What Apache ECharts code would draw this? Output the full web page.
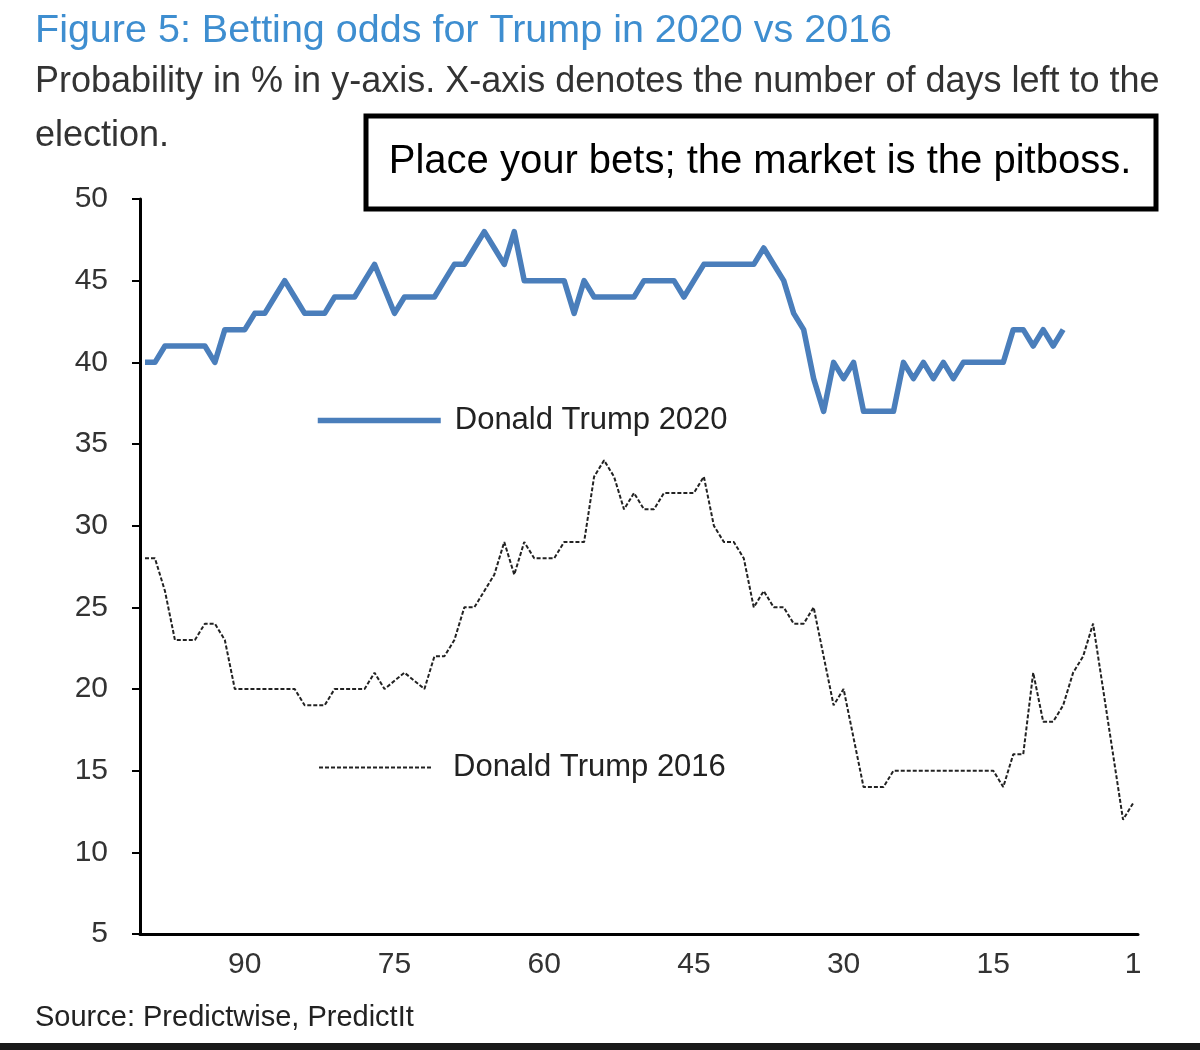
<!DOCTYPE html>
<html>
<head>
<meta charset="utf-8">
<title>Betting odds for Trump in 2020 vs 2016</title>
<script src="https://cdn.jsdelivr.net/npm/echarts@6/dist/echarts.min.js"></script>
<style>
  html, body { margin: 0; padding: 0; background: #fff; }
  #chart { width: 1200px; height: 1050px; }
</style>
</head>
<body>
<div id="chart"></div>
<script>
// days left to the election, 100 down to 1
const days = Array.from({ length: 100 }, (_, i) => 100 - i);
// labels shown under the x axis
const dayLabels = [90, 75, 60, 45, 30, 15, 1];

// 2020 odds, days 100..8
const trump2020 = [
    40, 40, 41, 41, 41, 41, 41, 40, 42, 42,
    42, 43, 43, 44, 45, 44, 43, 43, 43, 44,
    44, 44, 45, 46, 44.5, 43, 44, 44, 44, 44,
    45, 46, 46, 47, 48, 47, 46, 48, 45, 45,
    45, 45, 45, 43, 45, 44, 44, 44, 44, 44,
    45, 45, 45, 45, 44, 45, 46, 46, 46, 46,
    46, 46, 47, 46, 45, 43, 42, 39, 37, 40,
    39, 40, 37, 37, 37, 37, 40, 39, 40, 39,
    40, 39, 40, 40, 40, 40, 40, 42, 42, 41,
    42, 41, 42
];

// 2016 odds, days 100..1
const trump2016 = [
    28, 28, 26, 23, 23, 23, 24, 24, 23, 20,
    20, 20, 20, 20, 20, 20, 19, 19, 19, 20,
    20, 20, 20, 21, 20, 20.5, 21, 20.5, 20, 22,
    22, 23, 25, 25, 26, 27, 29, 27, 29, 28,
    28, 28, 29, 29, 29, 33, 34, 33, 31, 32,
    31, 31, 32, 32, 32, 32, 33, 30, 29, 29,
    28, 25, 26, 25, 25, 24, 24, 25, 22, 19,
    20, 17, 14, 14, 14, 15, 15, 15, 15, 15,
    15, 15, 15, 15, 15, 15, 14, 16, 16, 21,
    18, 18, 19, 21, 22, 24, 20, 16, 12, 13
];

const seriesNames = ['Donald Trump 2020', 'Donald Trump 2016'];

const font = "'Liberation Sans', Arial, sans-serif";
const blue = '#4A7EBB';
const dark = '#222';

const chart = echarts.init(document.getElementById('chart'));

// hide the legend dot, keep only the line sample
const noDot = { color: 'rgba(0,0,0,0)', borderWidth: 0, opacity: 0 };

chart.setOption({
    backgroundColor: '#fff',
    animation: false,
    grid: { left: 140, right: 62, top: 199, bottom: 116 },
    xAxis: {
        type: 'category',
        data: days,
        boundaryGap: true,
        axisLine: { onZero: false, lineStyle: { color: '#000', width: 3 } },
        axisTick: { show: false },
        axisLabel: {
            interval: (i, v) => dayLabels.includes(Number(v)),
            margin: 16,
            fontFamily: font,
            fontSize: 30,
            color: '#333'
        },
        splitLine: { show: false }
    },
    yAxis: {
        type: 'value',
        min: 5,
        max: 50,
        interval: 5,
        axisLine: { show: true, lineStyle: { color: '#000', width: 3 } },
        axisTick: { show: true, length: 8, lineStyle: { color: '#000', width: 2 } },
        axisLabel: { margin: 32, fontFamily: font, fontSize: 30, color: '#333' },
        splitLine: { show: false }
    },
    legend: [
        {
            data: [seriesNames[0]],
            left: 315,
            top: 405,
            padding: 0,
            itemWidth: 123,
            itemHeight: 14,
            itemStyle: noDot,
            lineStyle: { width: 5.5 },
            textStyle: { fontFamily: font, fontSize: 31, color: '#222', padding: [0, 0, 0, 9] }
        },
        {
            data: [seriesNames[1]],
            left: 318,
            top: 752,
            padding: 0,
            itemWidth: 112,
            itemHeight: 14,
            itemStyle: noDot,
            lineStyle: { width: 2 },
            textStyle: { fontFamily: font, fontSize: 31, color: '#222', padding: [0, 0, 0, 17] }
        }
    ],
    series: [
        {
            name: seriesNames[0],
            type: 'line',
            data: trump2020,
            symbol: 'none',
            lineStyle: { color: blue, width: 5.5, join: 'round' },
            itemStyle: { color: blue }
        },
        {
            name: seriesNames[1],
            type: 'line',
            data: trump2016,
            symbol: 'none',
            lineStyle: { color: dark, width: 2, type: [4, 2] },
            itemStyle: { color: dark }
        }
    ],
    graphic: [
        {
            type: 'text', left: 35, top: 11,
            style: { text: 'Figure 5: Betting odds for Trump in 2020 vs 2016', fontFamily: font, fontSize: 39.5, fill: '#3E8ED0' }
        },
        {
            type: 'text', left: 35, top: 64,
            style: { text: 'Probability in % in y-axis. X-axis denotes the number of days left to the', fontFamily: font, fontSize: 36, fill: '#333' }
        },
        {
            type: 'text', left: 35, top: 118,
            style: { text: 'election.', fontFamily: font, fontSize: 36, fill: '#333' }
        },
        {
            type: 'rect',
            shape: { x: 366, y: 116, width: 790, height: 93 },
            style: { fill: '#fff', stroke: '#000', lineWidth: 5 }
        },
        {
            type: 'text', x: 760, y: 162,
            style: {
                text: 'Place your bets; the market is the pitboss.',
                fontFamily: font, fontSize: 40, fill: '#000',
                align: 'center', verticalAlign: 'middle'
            }
        },
        {
            type: 'text', left: 35, top: 1003,
            style: { text: 'Source: Predictwise, PredictIt', fontFamily: font, fontSize: 29, fill: '#222' }
        },
        {
            type: 'rect',
            shape: { x: 0, y: 1043, width: 1200, height: 7 },
            style: { fill: '#1a1a1a' }
        }
    ]
});
</script>
</body>
</html>
